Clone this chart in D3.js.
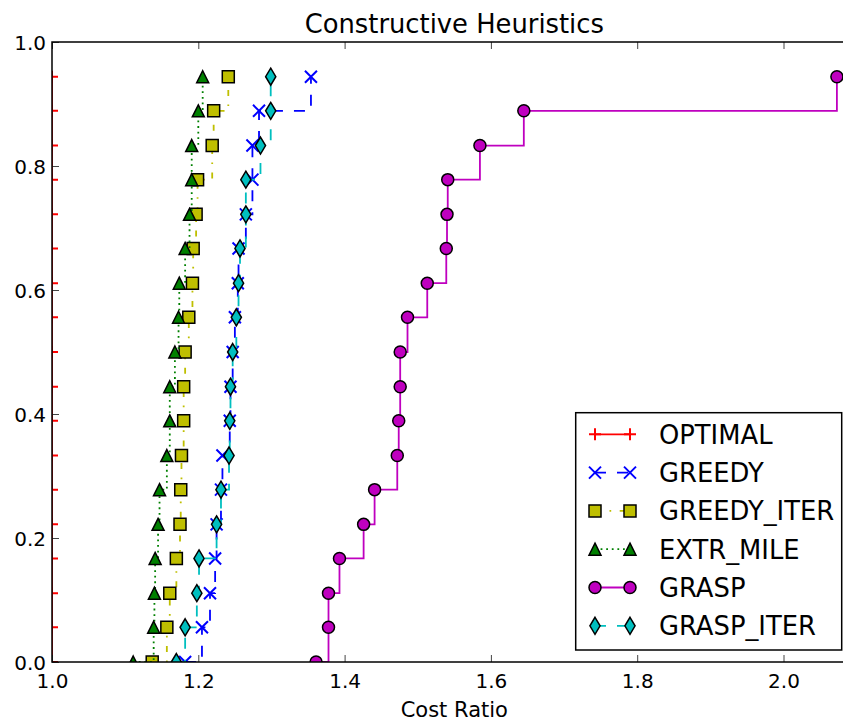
<!DOCTYPE html>
<html>
<head>
<meta charset="utf-8">
<script src="https://cdn.jsdelivr.net/npm/d3@7"></script>
<style>
  body { margin: 0; background: #fff; }
  svg { display: block; }
  text { font-family: "DejaVu Sans", sans-serif; fill: #000; }
</style>
</head>
<body>
<svg id="chart" width="843" height="721"></svg>
<script>
// Cumulative share of instances (y) reached at each cost ratio (x)
const cumulativeShare = [0, 0.056, 0.111, 0.167, 0.222, 0.278, 0.333, 0.389, 0.444,
                         0.5, 0.556, 0.611, 0.667, 0.722, 0.778, 0.833, 0.889, 0.944];

const optimal    = [1.0, 1.0, 1.0, 1.0, 1.0, 1.0, 1.0, 1.0, 1.0,
                    1.0, 1.0, 1.0, 1.0, 1.0, 1.0, 1.0, 1.0, 1.0];
const greedy     = [1.182, 1.205, 1.216, 1.223, 1.225, 1.231, 1.233, 1.243, 1.244,
                    1.247, 1.250, 1.254, 1.255, 1.265, 1.274, 1.274, 1.283, 1.354];
const greedyIter = [1.137, 1.157, 1.161, 1.170, 1.175, 1.176, 1.177, 1.180, 1.180,
                    1.182, 1.187, 1.192, 1.193, 1.197, 1.199, 1.219, 1.221, 1.241];
const extrMile   = [1.111, 1.139, 1.140, 1.141, 1.145, 1.147, 1.157, 1.161, 1.161,
                    1.168, 1.173, 1.174, 1.182, 1.188, 1.191, 1.191, 1.200, 1.206];
const grasp      = [1.361, 1.378, 1.378, 1.393, 1.426, 1.441, 1.472, 1.474, 1.476,
                    1.476, 1.486, 1.513, 1.539, 1.540, 1.541, 1.585, 1.645, 2.073];
const graspIter  = [1.170, 1.182, 1.198, 1.201, 1.225, 1.231, 1.242, 1.243, 1.244,
                    1.247, 1.252, 1.255, 1.257, 1.265, 1.265, 1.285, 1.299, 1.299];

const seriesNames = ["OPTIMAL", "GREEDY", "GREEDY_ITER", "EXTR_MILE", "GRASP", "GRASP_ITER"];
const seriesValues = [optimal, greedy, greedyIter, extrMile, grasp, graspIter];

const xTicks = [1.0, 1.2, 1.4, 1.6, 1.8, 2.0];
const yTicks = [0.0, 0.2, 0.4, 0.6, 0.8, 1.0];

// Visual style per series
const styles = [
  { color: "#ff0000", dash: null,              marker: "plus" },
  { color: "#0000ff", dash: "11,11",           marker: "x" },
  { color: "#bfbf00", dash: "6,8.5,1.7,8.5",   marker: "square" },
  { color: "#008000", dash: "1.8,3.8",         marker: "triangle" },
  { color: "#bf00bf", dash: null,              marker: "circle" },
  { color: "#00bfbf", dash: "11,11",           marker: "diamond" }
];

const svg = d3.select("#chart");
const margin = { left: 52, top: 42 };
const plotW = 804.65, plotH = 620;

const x = d3.scaleLinear().domain([1.0, 2.1]).range([margin.left, margin.left + plotW]);
const y = d3.scaleLinear().domain([0, 1]).range([margin.top + plotH, margin.top]);

svg.append("defs").append("clipPath").attr("id", "plot-clip")
  .append("rect")
  .attr("x", margin.left).attr("y", margin.top)
  .attr("width", plotW).attr("height", plotH);

const MS = 12;     // marker size
const MEW = 1.5;   // marker edge width
const LW = 1.8;    // line width

function markerPath(type, s) {
  const h = s / 2;
  switch (type) {
    case "square":   return `M${-h},${-h}H${h}V${h}H${-h}Z`;
    case "triangle": return `M0,${-h}L${h},${h}L${-h},${h}Z`;
    case "diamond": {
      const dh = s * Math.SQRT1_2, dw = 0.6 * dh;
      return `M0,${-dh}L${dw},0L0,${dh}L${-dw},0Z`;
    }
    case "x":    return `M${-h},${-h}L${h},${h}M${-h},${h}L${h},${-h}`;
    case "plus": return `M${-h},0H${h}M0,${-h}V${h}`;
  }
  return "";
}

function drawMarker(g, type, color, cx, cy) {
  if (type === "circle") {
    g.append("circle").attr("cx", cx).attr("cy", cy).attr("r", MS / 2)
      .attr("fill", color).attr("stroke", "#000").attr("stroke-width", MEW);
  } else if (type === "x" || type === "plus") {
    g.append("path").attr("d", markerPath(type, MS))
      .attr("transform", `translate(${cx},${cy})`)
      .attr("fill", "none").attr("stroke", color).attr("stroke-width", 2);
  } else {
    g.append("path").attr("d", markerPath(type, MS))
      .attr("transform", `translate(${cx},${cy})`)
      .attr("fill", color).attr("stroke", "#000").attr("stroke-width", MEW)
      .attr("stroke-linejoin", "miter");
  }
}

// Step (post) CDF lines with markers
const plot = svg.append("g").attr("clip-path", "url(#plot-clip)");
const stepLine = d3.line()
  .x(d => x(d[0])).y(d => y(d[1]))
  .curve(d3.curveStepAfter);

seriesValues.forEach((vals, si) => {
  const st = styles[si];
  const pts = vals.map((v, i) => [v, cumulativeShare[i]]);
  const g = plot.append("g");
  g.append("path")
    .attr("d", stepLine(pts))
    .attr("fill", "none")
    .attr("stroke", st.color)
    .attr("stroke-width", LW)
    .attr("stroke-dasharray", st.dash)
    .attr("stroke-linecap", "butt");
  pts.forEach(p => drawMarker(g, st.marker, st.color, x(p[0]), y(p[1])));
});

// Axes frame and inward ticks
const tickColor = "#444";
function styleAxis(g) {
  g.select(".domain").remove();
  g.selectAll(".tick line").attr("stroke", tickColor).attr("stroke-width", 1);
  g.selectAll(".tick text").style("font-size", "20px").attr("fill", "#000");
}

svg.append("g")
  .attr("transform", `translate(0,${margin.top + plotH})`)
  .call(d3.axisBottom(x).tickValues(xTicks).tickFormat(d3.format(".1f"))
    .tickSizeInner(-7).tickSizeOuter(0).tickPadding(12))
  .call(styleAxis);

svg.append("g")
  .attr("transform", `translate(0,${margin.top})`)
  .call(d3.axisTop(x).tickValues(xTicks).tickFormat("")
    .tickSizeInner(-7).tickSizeOuter(0))
  .call(styleAxis);

svg.append("g")
  .attr("transform", `translate(${margin.left},0)`)
  .call(d3.axisLeft(y).tickValues(yTicks).tickFormat(d3.format(".1f"))
    .tickSizeInner(-7).tickSizeOuter(0).tickPadding(6))
  .call(styleAxis)
  .call(g => g.selectAll(".tick text").attr("dy", "0.36em"));

svg.append("g")
  .attr("transform", `translate(${margin.left + plotW},0)`)
  .call(d3.axisRight(y).tickValues(yTicks).tickFormat("")
    .tickSizeInner(-7).tickSizeOuter(0))
  .call(styleAxis);

svg.append("rect")
  .attr("x", margin.left).attr("y", margin.top)
  .attr("width", plotW).attr("height", plotH)
  .attr("fill", "none").attr("stroke", "#000").attr("stroke-width", 1.5);

// Title and axis label
svg.append("text")
  .attr("x", margin.left + plotW / 2).attr("y", 33)
  .attr("text-anchor", "middle").style("font-size", "25.8px")
  .text("Constructive Heuristics");

svg.append("text")
  .attr("x", margin.left + plotW / 2).attr("y", 717)
  .attr("text-anchor", "middle").style("font-size", "21px")
  .text("Cost Ratio");

// Legend
const legend = svg.append("g");
legend.append("rect")
  .attr("x", 575.7).attr("y", 412.7).attr("width", 266).attr("height", 237.3)
  .attr("fill", "#fff").attr("stroke", "#000").attr("stroke-width", 1.5);

seriesNames.forEach((name, i) => {
  const st = styles[i];
  const cy = 434.3 + i * 38.3;
  const g = legend.append("g");
  g.append("line")
    .attr("x1", 595).attr("x2", 630).attr("y1", cy).attr("y2", cy)
    .attr("stroke", st.color).attr("stroke-width", LW)
    .attr("stroke-dasharray", st.dash);
  drawMarker(g, st.marker, st.color, 595, cy);
  drawMarker(g, st.marker, st.color, 630, cy);
  g.append("text")
    .attr("x", 659).attr("y", cy + 9.4)
    .style("font-size", "25.8px")
    .text(name);
});
</script>
</body>
</html>
